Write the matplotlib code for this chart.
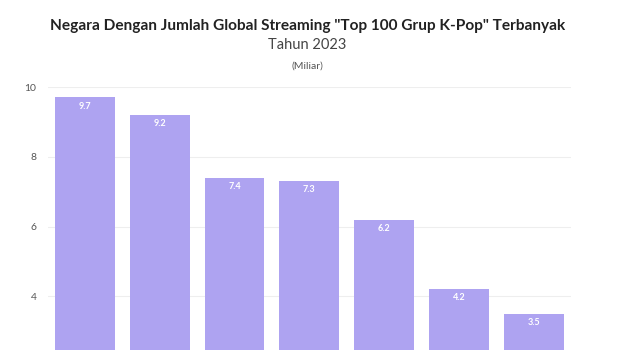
import matplotlib.pyplot as plt

# data (values in billions)
values = [9.7, 9.2, 7.4, 7.3, 6.2, 4.2, 3.5]
value_labels = ["9.7", "9.2", "7.4", "7.3", "6.2", "4.2", "3.5"]
y_ticks = [4, 6, 8, 10]

bar_color = "#aea3f1"
plt.rcParams["font.family"] = ["Lato", "DejaVu Sans"]

fig = plt.figure(figsize=(6.34, 3.5), dpi=100)
ax = fig.add_axes([0.0751, 0.0, 0.8255, 0.7514])

x = list(range(len(values)))
ax.bar(x, values, width=0.8, color=bar_color, zorder=2)

for xi, v, lab in zip(x, values, value_labels):
    ax.text(xi, v - 0.12, lab, ha="center", va="top", color="white",
            fontsize=6.5, fontweight="bold", zorder=3)

ax.set_xlim(-0.5, len(values) - 0.5)
ax.set_ylim(2.46, 10)
ax.set_yticks(y_ticks)
ax.set_yticklabels([str(t) for t in y_ticks], fontsize=7.5, color="#555555")
ax.tick_params(axis="y", length=0, pad=8)
ax.set_xticks([])
ax.grid(axis="y", color="#eeeeee", linewidth=0.8, zorder=0)
for s in ax.spines.values():
    s.set_visible(False)

fig.text(0.485, 0.925, 'Negara Dengan Jumlah Global Streaming "Top 100 Grup K-Pop" Terbanyak',
         ha="center", va="center", fontsize=11.1, fontweight="bold", color="#222222")
fig.text(0.485, 0.872, "Tahun 2023", ha="center", va="center",
         fontsize=10.5, color="#444444")
fig.text(0.485, 0.81, "(Miliar)", ha="center", va="center",
         fontsize=7.5, color="#555555")

fig.savefig("out.png", dpi=100)
